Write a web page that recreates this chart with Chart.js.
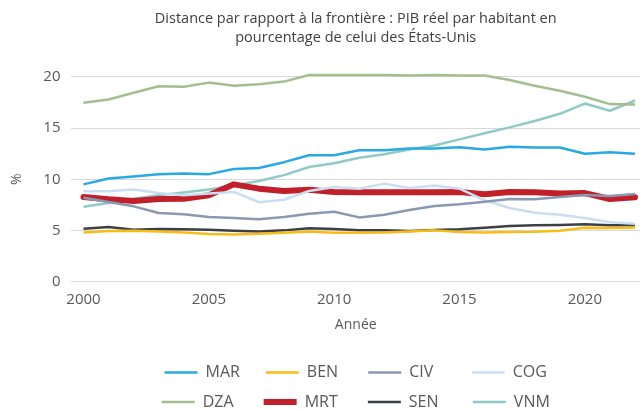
<!DOCTYPE html>
<html>
<head>
<meta charset="utf-8">
<script src="https://cdn.jsdelivr.net/npm/chart.js@4"></script>
<style>
  html, body { margin: 0; padding: 0; background: #fff; }
  #wrap { width: 641px; height: 409px; }
</style>
</head>
<body>
<div id="wrap"><canvas id="chart"></canvas></div>
<script>
const years = [2000, 2001, 2002, 2003, 2004, 2005, 2006, 2007, 2008, 2009, 2010, 2011,
               2012, 2013, 2014, 2015, 2016, 2017, 2018, 2019, 2020, 2021, 2022];
const xTicks = [2000, 2005, 2010, 2015, 2020];
const yTicks = [0, 5, 10, 15, 20];

const MAR = [9.5, 10.07, 10.26, 10.5, 10.55, 10.5, 11.0, 11.1, 11.67, 12.35, 12.35, 12.84,
             12.84, 13.0, 13.0, 13.14, 12.9, 13.17, 13.1, 13.1, 12.5, 12.65, 12.5];
const BEN = [4.8, 4.93, 4.97, 4.9, 4.8, 4.64, 4.6, 4.67, 4.77, 4.9, 4.77, 4.77,
             4.8, 4.9, 5.0, 4.83, 4.8, 4.83, 4.87, 4.97, 5.26, 5.23, 5.29];
const CIV = [8.2, 7.78, 7.35, 6.7, 6.57, 6.3, 6.2, 6.08, 6.3, 6.63, 6.83, 6.27,
             6.53, 7.0, 7.38, 7.55, 7.8, 8.07, 8.04, 8.27, 8.46, 8.37, 8.56];
const COG = [8.82, 8.82, 9.0, 8.66, 8.43, 8.6, 8.76, 7.75, 8.0, 8.85, 9.25, 9.08,
             9.57, 9.15, 9.38, 9.08, 7.94, 7.19, 6.73, 6.53, 6.2, 5.8, 5.65];
const DZA = [17.48, 17.8, 18.46, 19.1, 19.05, 19.45, 19.15, 19.3, 19.55, 20.2, 20.2, 20.2,
             20.2, 20.15, 20.2, 20.15, 20.15, 19.7, 19.15, 18.65, 18.07, 17.35, 17.3];
const MRT = [8.27, 8.04, 7.87, 8.07, 8.1, 8.43, 9.5, 9.08, 8.85, 8.98, 8.76, 8.73,
             8.73, 8.73, 8.73, 8.76, 8.53, 8.76, 8.73, 8.6, 8.65, 8.07, 8.24];
const SEN = [5.16, 5.33, 5.07, 5.13, 5.1, 5.07, 4.97, 4.9, 5.0, 5.2, 5.13, 5.0,
             5.0, 4.93, 5.03, 5.1, 5.26, 5.42, 5.49, 5.52, 5.59, 5.49, 5.49];
const VNM = [7.3, 7.68, 8.1, 8.43, 8.7, 8.99, 9.4, 9.83, 10.4, 11.2, 11.57, 12.1,
             12.45, 12.9, 13.3, 13.9, 14.5, 15.07, 15.7, 16.4, 17.4, 16.7, 17.7];

const series = [
    { label: 'MAR', data: MAR, color: '#29a9e1', width: 2.5 },
    { label: 'BEN', data: BEN, color: '#f8bd14', width: 2.5 },
    { label: 'CIV', data: CIV, color: '#8a98b3', width: 2.5 },
    { label: 'COG', data: COG, color: '#cadef3', width: 2.5 },
    { label: 'DZA', data: DZA, color: '#a4bf8f', width: 2.5 },
    { label: 'MRT', data: MRT, color: '#c1202b', width: 6 },
    { label: 'SEN', data: SEN, color: '#3c4045', width: 2.5 },
    { label: 'VNM', data: VNM, color: '#8fcac6', width: 2.5 }
];

const FONT = '"Open Sans", "Noto Sans", sans-serif';
const GREY = '#595959';

/* legend columns: pad the first three labels of a row to the same width */
const measure = document.createElement('canvas').getContext('2d');
measure.font = '16px ' + FONT;
function padLabel(text, target) {
    let t = text;
    while (measure.measureText(t).width < target) t += ' ';
    return t;
}

/* four legend items per row */
const legendRows = {
    id: 'legendRows',
    beforeLayout(chart) {
        const lg = chart.legend;
        if (!lg || lg._rows) return;
        const update = lg.update.bind(lg);
        lg.update = (w, h, m) => update(Math.min(w, 430), h, m);
        lg._rows = true;
    }
};

new Chart(document.getElementById('chart'), {
    type: 'line',
    data: {
        datasets: series.map(s => ({
            label: s.label,
            data: s.data.map((v, i) => ({ x: years[i], y: v })),
            borderColor: s.color,
            backgroundColor: s.color,
            borderWidth: s.width,
            borderJoinStyle: 'round',
            borderCapStyle: s.label === 'MRT' ? 'round' : 'butt',
            pointRadius: 0,
            pointHoverRadius: 0,
            tension: 0,
            clip: false
        }))
    },
    options: {
        responsive: true,
        maintainAspectRatio: false,
        animation: false,
        layout: { padding: { left: 0, right: 1, top: 0, bottom: -11 } },
        scales: {
            x: {
                type: 'linear',
                min: 1999.52,
                max: 2022.2,
                afterBuildTicks: s => { s.ticks = xTicks.map(v => ({ value: v })); },
                ticks: {
                    padding: 10.5,
                    color: GREY,
                    font: { family: FONT, size: 15, lineHeight: 1 },
                    maxRotation: 0,
                    callback: v => String(v)
                },
                grid: { display: false, drawTicks: false },
                border: { display: false },
                title: {
                    display: true,
                    text: 'Année',
                    color: GREY,
                    font: { family: FONT, size: 14, lineHeight: 1 },
                    padding: { top: 0.5, bottom: 19 }
                }
            },
            y: {
                min: 0,
                max: 20,
                afterBuildTicks: s => { s.ticks = yTicks.map(v => ({ value: v })); },
                ticks: {
                    padding: 11,
                    color: GREY,
                    font: { family: FONT, size: 15 }
                },
                grid: { color: '#d9d9d9', lineWidth: 1, drawTicks: false },
                border: { display: false },
                title: {
                    display: true,
                    text: '%',
                    color: GREY,
                    font: { family: FONT, size: 14 },
                    padding: { top: 9, bottom: 6.5 }
                }
            }
        },
        plugins: {
            title: {
                display: true,
                fullSize: false,
                text: ['Distance par rapport à la frontière : PIB réel par habitant en',
                       'pourcentage de celui des États-Unis'],
                color: '#404040',
                font: { family: FONT, size: 14.5, weight: 'normal', lineHeight: 1.31 },
                padding: { top: 9, bottom: 30 }
            },
            legend: {
                position: 'bottom',
                fullSize: false,
                labels: {
                    color: GREY,
                    font: { family: FONT, size: 16 },
                    usePointStyle: true,
                    pointStyle: 'line',
                    pointStyleWidth: 33,
                    padding: 13.5,
                    generateLabels(chart) {
                        const items = Chart.defaults.plugins.legend.labels.generateLabels(chart);
                        items.forEach((it, i) => {
                            if (i % 4 !== 3) it.text = padLabel(it.text, 46.5);
                        });
                        return items;
                    }
                }
            },
            tooltip: { enabled: false }
        }
    },
    plugins: [legendRows]
});
</script>
</body>
</html>
